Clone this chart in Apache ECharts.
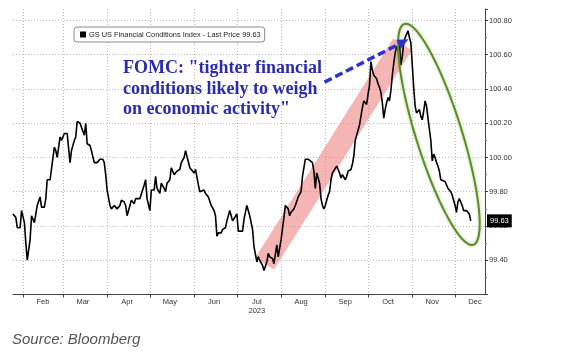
<!DOCTYPE html>
<html>
<head>
<meta charset="utf-8">
<script src="https://cdn.jsdelivr.net/npm/echarts@6/dist/echarts.min.js"></script>
<style>
  html, body { margin: 0; padding: 0; background: #fff; }
  #chart { width: 569px; height: 352px; }
</style>
</head>
<body>
<div id="chart"></div>
<script>
// GS US Financial Conditions Index, 2023 (day of year -> index level)
const dayOfYear = [
  25, 27, 28, 30, 31, 33, 34, 35, 37, 38, 40, 41, 42, 44, 45, 47, 48, 49, 51, 52,
  54, 55, 56, 58, 59, 61, 62, 63, 65, 66, 68, 69, 70, 72, 73, 75, 76, 77, 79, 80,
  82, 83, 84, 86, 88, 89, 90, 91, 93, 94, 96, 97, 98, 100, 101, 103, 104, 105, 107, 108,
  110, 111, 112, 114, 115, 117, 118, 119, 121, 122, 124, 125, 126, 128, 129, 131, 132, 133, 135, 136,
  138, 139, 140, 142, 143, 145, 146, 147, 149, 150, 152, 153, 155, 156, 157, 159, 160, 162, 163, 164,
  166, 167, 168, 169, 171, 172, 174, 175, 176, 177, 179, 180, 182, 183, 184, 186, 187, 189, 190, 191,
  193, 194, 196, 197, 198, 200, 201, 203, 204, 205, 207, 208, 210, 211, 212, 213, 215, 216, 218, 219,
  220, 222, 223, 225, 226, 227, 228, 230, 231, 232, 233, 235, 236, 237, 238, 239, 240, 241, 242, 243,
  244, 245, 246, 247, 248, 249, 250, 252, 253, 254, 255, 256, 258, 259, 260, 261, 262, 263, 264, 265,
  267, 268, 269, 270, 271, 272, 273, 274, 275, 276, 277, 278, 279, 280, 281, 282, 283, 284, 285, 286,
  287, 288, 289, 290, 291, 292, 293, 294, 295, 296, 297, 298, 299, 300, 301, 302, 303, 304, 305, 306,
  307, 308, 309, 310, 311, 312, 313, 314, 315, 316, 317, 318, 319, 320, 321, 322, 323, 324, 325, 326,
  328, 329, 330, 332, 333, 334, 335, 336, 337, 338, 339, 340, 341, 343, 344, 345, 346
];
const values = [
  99.67, 99.65, 99.59, 99.59, 99.69, 99.62, 99.50, 99.40, 99.52, 99.66, 99.62, 99.67, 99.72, 99.77, 99.71, 99.71, 99.76, 99.87, 99.87, 99.87,
  100.06, 100.04, 100.00, 100.12, 100.10, 100.14, 100.14, 100.14, 99.97, 100.04, 100.10, 100.12, 100.21, 100.20, 100.20, 100.13, 100.20, 100.08, 100.07, 100.04,
  99.97, 99.98, 99.97, 99.99, 99.99, 99.97, 99.90, 99.81, 99.72, 99.70, 99.72, 99.71, 99.70, 99.72, 99.75, 99.74, 99.72, 99.66, 99.72, 99.75,
  99.73, 99.76, 99.77, 99.76, 99.75, 99.84, 99.87, 99.76, 99.69, 99.81, 99.81, 99.89, 99.82, 99.79, 99.85, 99.82, 99.80, 99.85, 99.87, 99.94,
  99.90, 99.91, 99.92, 99.93, 99.97, 100.00, 100.04, 100.03, 99.94, 99.93, 99.91, 99.93, 99.84, 99.80, 99.79, 99.81, 99.79, 99.77, 99.76, 99.72,
  99.69, 99.66, 99.54, 99.56, 99.56, 99.58, 99.59, 99.63, 99.66, 99.69, 99.63, 99.63, 99.67, 99.57, 99.57, 99.57, 99.64, 99.72, 99.71, 99.66,
  99.58, 99.48, 99.39, 99.42, 99.40, 99.37, 99.34, 99.39, 99.44, 99.42, 99.41, 99.38, 99.49, 99.42, 99.42, 99.52, 99.65, 99.72, 99.70, 99.66,
  99.68, 99.70, 99.72, 99.77, 99.78, 99.80, 99.89, 99.99, 100.00, 99.99, 99.98, 99.97, 99.92, 99.82, 99.91, 99.88, 99.85, 99.76, 99.72, 99.70,
  99.72, 99.75, 99.78, 99.80, 99.87, 99.91, 99.92, 99.95, 99.96, 99.91, 99.88, 99.90, 99.87, 99.89, 99.92, 99.91, 99.93, 99.96, 100.01, 100.10,
  100.16, 100.19, 100.24, 100.29, 100.33, 100.34, 100.31, 100.37, 100.42, 100.56, 100.51, 100.48, 100.49, 100.46, 100.43, 100.41, 100.38, 100.32, 100.23, 100.28,
  100.32, 100.35, 100.33, 100.39, 100.48, 100.55, 100.61, 100.65, 100.62, 100.67, 100.54, 100.59, 100.67, 100.70, 100.71, 100.74, 100.70, 100.67, 100.67, 100.41,
  100.30, 100.26, 100.25, 100.28, 100.24, 100.22, 100.27, 100.33, 100.30, 100.23, 100.22, 100.10, 99.98, 100.02, 100.00, 99.97, 99.95, 99.92, 99.87, 99.86,
  99.86, 99.85, 99.82, 99.80, 99.78, 99.75, 99.72, 99.68, 99.74, 99.76, 99.74, 99.72, 99.69, 99.69, 99.68, 99.67, 99.63
];
const seriesName = "GS US Financial Conditions Index - Last Price 99.63";
const lastPrice = 99.63;
const firstDay = 25;   // Jan 25
const lastDay = 356;   // Dec 22
const monthNames = ["Jan", "Feb", "Mar", "Apr", "May", "Jun", "Jul", "Aug", "Sep", "Oct", "Nov", "Dec"];

// annotations, in [day of year, index level]
const bandFrom = [201.5, 99.38];
const bandTo = [298.1, 100.66];
const arrowFrom = [243.5, 100.44];
const arrowTo = [302.3, 100.69];
const ovalTop = [299.5, 100.78];
const ovalBottom = [347.8, 99.49];
const note = 'FOMC: "tighter financial\nconditions likely to weigh\non economic activity"';

const FONT = "Liberation Sans";

function isoDate(doy) {
  return new Date(Date.UTC(2023, 0, doy)).toISOString().slice(0, 10);
}
const categories = [];
for (let d = firstDay; d <= lastDay; d++) categories.push(isoDate(d));
const lineData = dayOfYear.map((d, i) => [isoDate(d), values[i]]);

const chart = echarts.init(document.getElementById("chart"), null, { renderer: "canvas" });

const gridLine = { color: "#bdbdbd", width: 1, type: [1, 2] };

chart.setOption({
  animation: false,
  backgroundColor: "#fff",
  title: {
    text: "Source: Bloomberg",
    left: 12,
    top: 332,
    padding: 0,
    textStyle: { fontFamily: FONT, fontStyle: "italic", fontWeight: "normal", fontSize: 15, color: "#555" },
  },
  legend: {
    left: 74,
    top: 27,
    orient: "horizontal",
    padding: [4, 4, 4, 6],
    backgroundColor: "#fff",
    borderColor: "#8a8a8a",
    borderWidth: 1,
    borderRadius: 3,
    itemWidth: 6,
    itemHeight: 6,
    icon: "rect",
    data: [{ name: seriesName, itemStyle: { color: "#000" } }],
    textStyle: { fontFamily: FONT, fontSize: 7.4, color: "#222", padding: [0, 0, 0, -2] },
  },
  grid: { left: 13, right: 84, top: 9, bottom: 57.5, containLabel: false },
  xAxis: {
    type: "category",
    data: categories,
    boundaryGap: false,
    axisLine: { show: true, lineStyle: { color: "#444", width: 1 } },
    axisTick: {
      show: true,
      length: 3,
      interval: (i, v) => v.slice(8) === "01",
      lineStyle: { color: "#444" },
    },
    axisLabel: {
      interval: (i, v) => v.slice(8) === "15",
      formatter: (v) => {
        const m = Number(v.slice(5, 7));
        return m === 7 ? "Jul\n2023" : monthNames[m - 1];
      },
      margin: 3,
      fontFamily: FONT,
      fontSize: 7.5,
      lineHeight: 9,
      color: "#333",
    },
    splitLine: {
      show: true,
      interval: (i, v) => v.slice(8) === "01",
      lineStyle: gridLine,
    },
  },
  yAxis: {
    type: "value",
    position: "right",
    min: 99.2,
    max: 100.867,
    interval: 0.2,
    axisLine: { show: true, lineStyle: { color: "#444", width: 1 } },
    axisTick: { show: true, length: 3, lineStyle: { color: "#444" } },
    minorTick: { show: true, splitNumber: 2, length: 2, lineStyle: { color: "#777" } },
    axisLabel: {
      formatter: (v) => v.toFixed(2),
      showMinLabel: false,
      showMaxLabel: false,
      margin: 4,
      fontFamily: FONT,
      fontSize: 7.5,
      color: "#333",
    },
    splitLine: { show: true, showMinLine: false, showMaxLine: false, lineStyle: gridLine },
  },
  series: [
    {
      name: seriesName,
      type: "line",
      data: lineData,
      showSymbol: false,
      symbol: "none",
      lineStyle: { color: "#000", width: 1.6 },
      itemStyle: { color: "#000" },
      z: 3,
      markLine: {
        silent: true,
        symbol: "none",
        lineStyle: { color: "rgba(0,0,0,0)" },
        label: {
          show: true,
          position: "end",
          distance: 2,
          formatter: "99.63",
          backgroundColor: "#000",
          color: "#fff",
          padding: [3, 3, 2, 3],
          fontFamily: FONT,
          fontSize: 7.5,
        },
        data: [{ yAxis: lastPrice }],
      },
    },
  ],
});

function toPx(p) {
  const x0 = chart.convertToPixel({ xAxisIndex: 0 }, 0);
  const x1 = chart.convertToPixel({ xAxisIndex: 0 }, categories.length - 1);
  const x = x0 + ((x1 - x0) * (p[0] - firstDay)) / (categories.length - 1);
  const y = chart.convertToPixel({ yAxisIndex: 0 }, p[1]);
  return [x, y];
}

function drawAnnotations() {
  // pink trend band
  const b0 = toPx(bandFrom);
  const b1 = toPx(bandTo);
  let dx = b1[0] - b0[0];
  let dy = b1[1] - b0[1];
  let len = Math.hypot(dx, dy);
  let nx = -dy / len;
  let ny = dx / len;
  const hw = 11;
  const band = [
    [b0[0] - nx * hw, b0[1] - ny * hw],
    [b1[0] - nx * hw, b1[1] - ny * hw],
    [b1[0] + nx * hw, b1[1] + ny * hw],
    [b0[0] + nx * hw, b0[1] + ny * hw],
  ];

  // dashed arrow
  const a0 = toPx(arrowFrom);
  const a1 = toPx(arrowTo);
  dx = a1[0] - a0[0];
  dy = a1[1] - a0[1];
  len = Math.hypot(dx, dy);
  const ux = dx / len;
  const uy = dy / len;
  const headLen = 11;
  const headW = 5;
  const base = [a1[0] - ux * headLen, a1[1] - uy * headLen];
  const head = [
    a1,
    [base[0] - uy * headW, base[1] + ux * headW],
    [base[0] + uy * headW, base[1] - ux * headW],
  ];

  // green oval around the recent easing
  const o0 = toPx(ovalTop);
  const o1 = toPx(ovalBottom);
  const cx = (o0[0] + o1[0]) / 2;
  const cy = (o0[1] + o1[1]) / 2;
  const ra = Math.hypot(o1[0] - o0[0], o1[1] - o0[1]) / 2;
  const rb = 23;
  const ang = Math.atan2(o1[1] - o0[1], o1[0] - o0[0]);
  const oval = [];
  for (let i = 0; i < 90; i++) {
    const t = (i / 90) * Math.PI * 2;
    const ex = ra * Math.cos(t);
    const ey = rb * Math.sin(t);
    oval.push([cx + ex * Math.cos(ang) - ey * Math.sin(ang), cy + ex * Math.sin(ang) + ey * Math.cos(ang)]);
  }

  chart.setOption({
    graphic: [
      {
        type: "polygon",
        z: 1,
        silent: true,
        shape: { points: band },
        style: { fill: "rgba(238,120,120,0.55)", stroke: null },
      },
      {
        type: "polygon",
        z: 20,
        silent: true,
        shape: { points: oval },
        style: {
          fill: null,
          stroke: "#5d8c2c",
          lineWidth: 2,
          shadowBlur: 3,
          shadowColor: "rgba(140,190,80,0.7)",
        },
      },
      {
        type: "line",
        z: 20,
        silent: true,
        shape: { x1: a0[0], y1: a0[1], x2: base[0], y2: base[1] },
        style: { stroke: "#2f2fd6", lineWidth: 3.5, lineDash: [8, 4] },
      },
      {
        type: "polygon",
        z: 20,
        silent: true,
        shape: { points: head },
        style: { fill: "#2f2fd6" },
      },
      {
        type: "text",
        z: 20,
        silent: true,
        x: 123,
        y: 58.5,
        style: {
          text: note,
          fontFamily: "Liberation Serif",
          fontWeight: "bold",
          fontSize: 18,
          lineHeight: 20.5,
          fill: "#2b2bb0",
          verticalAlign: "top",
          align: "left",
        },
      },
    ],
  });
}

drawAnnotations();
</script>
</body>
</html>
